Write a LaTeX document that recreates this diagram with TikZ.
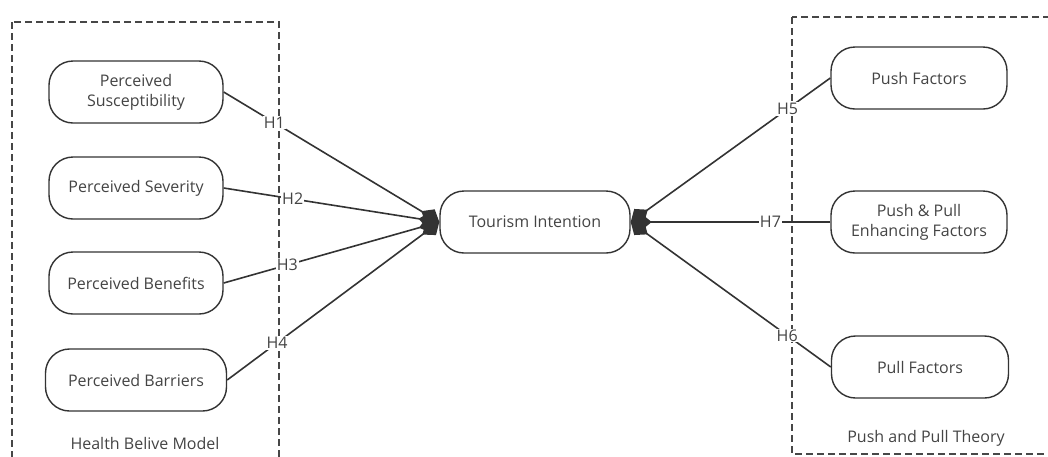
\documentclass[tikz,border=0pt]{standalone}
\usepackage{fontspec}
\setmainfont{Open Sans}
\usetikzlibrary{arrows.meta}
\definecolor{linegray}{HTML}{333333}
\definecolor{txtgray}{HTML}{444444}

\begin{document}
\begin{tikzpicture}[x=1pt, y=-1pt, font=\fontsize{16}{20}\selectfont, text=txtgray,
  every text node part/.style={align=center},
  factor/.style={draw=linegray, line width=1.4pt, rectangle, rounded corners=24pt, minimum width=174pt, minimum height=62pt, inner sep=2pt},
  frame/.style={draw=linegray!90, line width=1.4pt, dash pattern=on 7pt off 4pt},
  link/.style={draw=linegray, line width=1.6pt, -{Diamond[length=21pt,width=17pt]}},
  hyp/.style={fill=white, inner sep=1pt, pos=#1}]
\useasboundingbox (0,0) rectangle (1048,456);

\draw[frame] (12,22) rectangle (279,458);
\draw[frame] (792,17) rectangle (1056,454);
\node (hbm) at (145,443) {Health Belive Model};
\node (ppt) at (926,438) {Push and Pull Theory};

\node[factor] (sus) at (136,92) {Perceived\\Susceptibility};
\node[factor] (sev) at (136,188) {Perceived Severity};
\node[factor] (ben) at (136,283) {Perceived Benefits};
\node[factor, minimum width=181pt] (bar) at (136,380) {Perceived Barriers};

\node[factor, minimum width=190pt] (ti) at (535,222) {Tourism Intention};

\node[factor, minimum width=176pt] (push) at (919,78) {Push Factors};
\node[factor, minimum width=176pt] (enh) at (919,222) {Push \& Pull\\Enhancing Factors};
\node[factor, minimum width=177pt] (pull) at (920,367) {Pull Factors};

\draw[link] (sus.east) -- node[hyp=0.235] {H1} (ti.west);
\draw[link] (sev.east) -- node[hyp=0.32] {H2} (ti.west);
\draw[link] (ben.east) -- node[hyp=0.295] {H3} (ti.west);
\draw[link] (bar.east) -- node[hyp=0.235] {H4} (ti.west);
\draw[link] (push.west) -- node[hyp=0.214] {H5} (ti.east);
\draw[link] (enh.west) -- node[hyp=0.30] {H7} (ti.east);
\draw[link] (pull.west) -- node[hyp=0.218] {H6} (ti.east);

\end{tikzpicture}
\end{document}
